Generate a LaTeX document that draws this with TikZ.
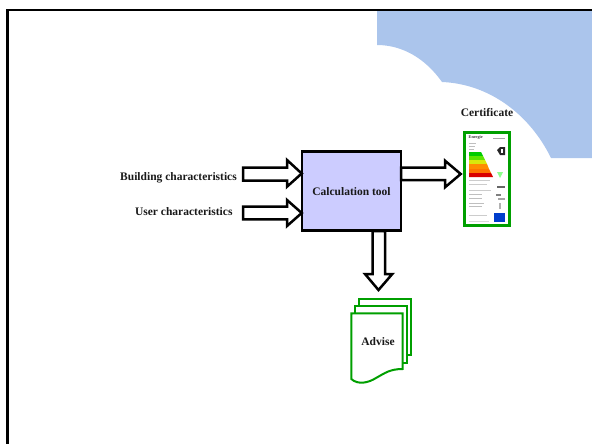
\documentclass[tikz,border=0pt]{standalone}
\usepackage{fontspec}
\setmainfont{Liberation Serif}
\definecolor{skyblue}{HTML}{ABC5EC}
\definecolor{toolfill}{HTML}{CCCCFF}
\definecolor{docgreen}{HTML}{009F00}
\tikzset{
  x=1pt,y=-1pt,
  frameline/.style={line width=2.6pt,black},
  blockarrow/.style={draw=black,line width=2.5pt,fill=white,line join=miter},
  toolbox/.style={draw=black,line width=2.5pt,fill=toolfill,minimum width=99pt,minimum height=79pt,inner sep=0pt},
  lab/.style={font=\bfseries\fontsize{11.5}{13}\selectfont,inner sep=0pt,text=black!90},
  docpage/.style={draw=docgreen,line width=2pt,fill=white},
  certbox/.style={draw=docgreen,line width=2.2pt,fill=white,minimum width=45pt,minimum height=93pt,inner sep=0pt},
}
\begin{document}
\begin{tikzpicture}
\useasboundingbox (0,0) rectangle (592,444);
% blue background
\fill[skyblue] (377,11) -- (377,45) .. controls (402,45) and (425,58) .. (442,82)
  .. controls (490,84) and (530,115) .. (551,158) -- (592,158) -- (592,11) -- cycle;
% frame
\coordinate (ftl) at (7.5,10);
\coordinate (ftr) at (592,10);
\coordinate (fbl) at (7.5,444);
\draw[frameline] (ftr) -- (ftl) -- (fbl);
% tool
\node[toolbox] (tool) at (351.5,191) {};
\node[lab] (toollab) at (351.5,192) {Calculation tool};
% labels
\node[lab,anchor=east] (bc) at (237,177.5) {Building characteristics};
\node[lab,anchor=east] (uc) at (232.7,211.5) {User characteristics};
% input arrows
\draw[blockarrow] (243,167.7) -- (287,167.7) -- (287,160) -- (301.7,173.5) -- (287,186.7) -- (287,180.5) -- (243,180.5) -- cycle;
\draw[blockarrow] (243,206.7) -- (287,206.7) -- (287,200) -- (301.7,213) -- (287,226) -- (287,219.3) -- (243,219.3) -- cycle;
% output arrows
\draw[blockarrow] (401,167.5) -- (445,167.5) -- (445,160.7) -- (460.7,174) -- (445,187.3) -- (445,180) -- (401,180) -- cycle;
\draw[blockarrow] (372.7,231) -- (372.7,274) -- (365,274) -- (378.5,290) -- (392.3,274) -- (385,274) -- (385,231) -- cycle;
% certificate
\node[lab] (certlab) at (487,113) {Certificate};
\node[certbox] (cert) at (487,179) {};
\node[font=\bfseries\fontsize{4.2}{4}\selectfont,inner sep=0pt,anchor=west,text=black!80] (en) at (468.5,137.5) {Energie};
\fill[black!35] (493,137.5) rectangle (505,139);
\fill[black!25] (469,143) rectangle (476,144);
\fill[black!25] (469,146) rectangle (475,147);
\fill[black!25] (469,149) rectangle (474,150);
\fill[green!80!black] (469,152) -- (481,152) -- (483,156) -- (469,156) -- cycle;
\fill[green!60!yellow!90!black] (469,156) -- (483,156) -- (485,160) -- (469,160) -- cycle;
\fill[yellow!85!green] (469,160) -- (485,160) -- (487,164) -- (469,164) -- cycle;
\fill[orange!90!yellow] (469,164) -- (487,164) -- (489,169) -- (469,169) -- cycle;
\fill[orange!90!red] (469,169) -- (489,169) -- (491,173) -- (469,173) -- cycle;
\fill[red!85!black] (469,173) -- (491,173) -- (493,177) -- (469,177) -- cycle;
\fill[black!85] (497,150) -- (500,147) -- (505,147) -- (505,155) -- (500,155) -- cycle;
\fill[white] (501,149) rectangle (503,153);
\fill[green!45!white] (497,172) -- (503,172) -- (500,178) -- cycle;
\fill[black!20] (469,180) rectangle (490,181);
\fill[black!20] (469,184) rectangle (487,185);
\fill[black!60] (497,186) rectangle (505,188);
\fill[black!20] (469,190) rectangle (491,191);
\fill[black!25] (469,194) rectangle (482,195);
\fill[black!50] (496,194) rectangle (501,196);
\fill[black!25] (469,198) rectangle (482,199);
\fill[black!35] (498,198) rectangle (505,200);
\fill[black!25] (469,203) rectangle (484,204);
\fill[black!25] (469,206) rectangle (482,207);
\fill[black!30] (499,203) rectangle (501,209);
\fill[black!20] (469,215) rectangle (487,216);
\fill[black!15] (469,221) rectangle (489,222);
\fill[blue!70!cyan!80!black] (494,213) rectangle (505,222);
% advise document
\draw[docpage] (359.3,299.3) rectangle (411,355);
\draw[docpage] (355.3,306) rectangle (407,362.7);
\draw[docpage] (351.3,313.3) -- (402.7,313.3) -- (402.7,369) .. controls (390,369) and (385,373) .. (376,378) .. controls (368,383) and (358,385) .. (351.3,379) -- cycle;
\node[lab] (adv) at (378,342) {Advise};
\end{tikzpicture}
\end{document}
